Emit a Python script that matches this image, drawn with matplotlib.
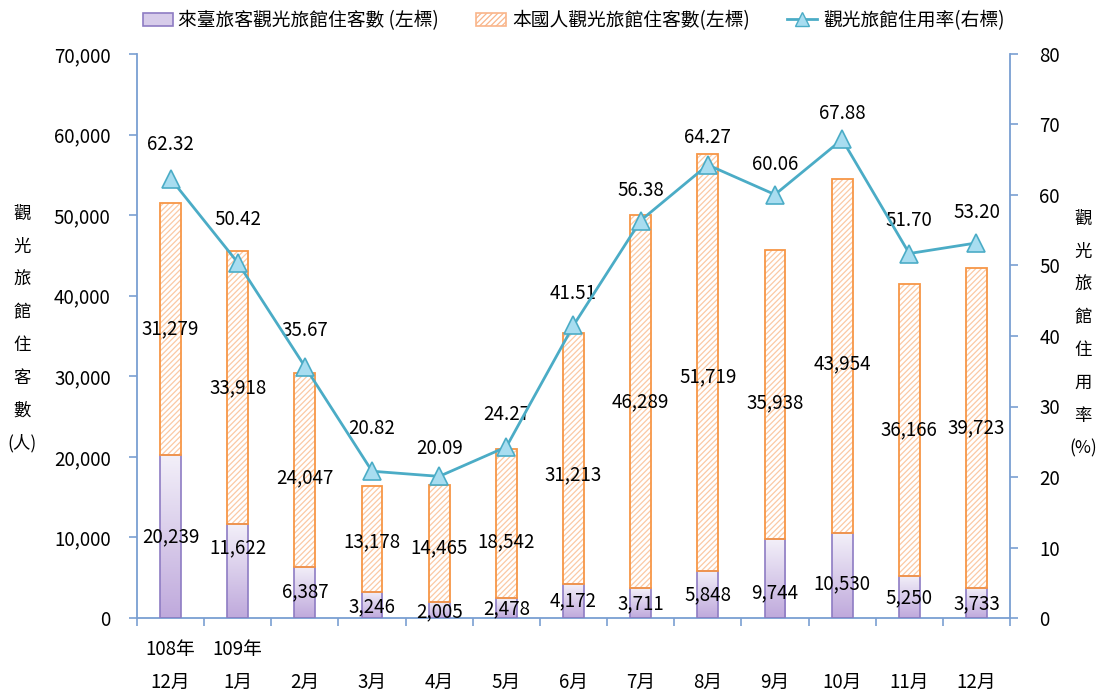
import numpy as np
import matplotlib
matplotlib.use("Agg")
import matplotlib.pyplot as plt
from matplotlib.colors import LinearSegmentedColormap
from matplotlib.patches import Patch
from matplotlib.lines import Line2D

plt.rcParams['font.family'] = ['Noto Sans CJK TC', 'DejaVu Sans']
plt.rcParams['hatch.linewidth'] = 0.9

months = ["12月", "1月", "2月", "3月", "4月", "5月", "6月", "7月", "8月", "9月", "10月", "11月", "12月"]
years = ["108年", "109年", "", "", "", "", "", "", "", "", "", "", ""]
foreign = [20239, 11622, 6387, 3246, 2005, 2478, 4172, 3711, 5848, 9744, 10530, 5250, 3733]
domestic = [31279, 33918, 24047, 13178, 14465, 18542, 31213, 46289, 51719, 35938, 43954, 36166, 39723]
occupancy = [62.32, 50.42, 35.67, 20.82, 20.09, 24.27, 41.51, 56.38, 64.27, 60.06, 67.88, 51.70, 53.20]

# hand nudges for the data labels (data units / pixels), like the original layout
foreign_nudge = [0, 2900, 0, -200, -250, -150, 0, -100, 0, -1800, -1000, -100, -100]
domestic_nudge = [0, 0, -1000, -400, -550, -2300, -2000, 0, -1800, -1000, -1000, 0, 0]
rate_offset = [34, 43, 36, 43, 28, 32, 32, 30, 27, 30, 26, 33, 30]

axis_col = "#7A9FD2"
line_col = "#4BACC6"

fig = plt.figure(figsize=(10.98, 6.91), dpi=100)
ax = fig.add_axes([137 / 1098, 1 - 618 / 691, (1010 - 137) / 1098, (618 - 54) / 691])
x = np.arange(len(months))
w = 0.31

# foreign visitors: lavender gradient bars
fbars = ax.bar(x, foreign, w, color="none", edgecolor="#8E7CC3", linewidth=1.2, zorder=3)
cmap = LinearSegmentedColormap.from_list("lav", ["#BFA9DC", "#F3F0F9"])
grad = np.linspace(0, 1, 256).reshape(-1, 1)
for b in fbars:
    x0, y0 = b.get_x(), b.get_y()
    im = ax.imshow(grad, extent=[x0, x0 + b.get_width(), y0, y0 + b.get_height()],
                   origin="lower", aspect="auto", cmap=cmap, zorder=2)
    im.set_clip_path(b)

# domestic visitors: hatched orange bars
ax.bar(x, domestic, w, bottom=foreign, color="white", edgecolor="#FBC9A4",
       hatch="//////", linewidth=0, zorder=2)
ax.bar(x, domestic, w, bottom=foreign, color="none", edgecolor="#F79646",
       linewidth=1.3, zorder=3)

ax.set_xlim(-0.5, len(months) - 0.5)
ax.set_ylim(0, 70000)
ax.set_yticks(np.arange(0, 70001, 10000))
ax.set_yticklabels([f"{v:,}" for v in range(0, 70001, 10000)])
ax.set_xticks(x)
ax.set_xticklabels([f"{yy}\n{m}" for yy, m in zip(years, months)], linespacing=1.75)
ax.set_xticks(np.arange(-0.5, len(months)), minor=True)
ax.tick_params(axis="x", which="major", length=0, pad=15, labelsize=13.5)
ax.tick_params(axis="x", which="minor", length=6, color=axis_col, width=1.2, direction="out")
ax.tick_params(axis="y", length=6, color=axis_col, width=1.2, pad=13, labelsize=13.5)
for s in ["left", "bottom"]:
    ax.spines[s].set_color(axis_col)
    ax.spines[s].set_linewidth(1.3)
ax.spines["top"].set_visible(False)
ax.spines["right"].set_visible(False)

for i in range(len(months)):
    ax.text(x[i], foreign[i] / 2 + foreign_nudge[i], f"{foreign[i]:,}",
            ha="center", va="center", fontsize=13.5, zorder=5)
    ax.text(x[i], foreign[i] + domestic[i] / 2 + domestic_nudge[i], f"{domestic[i]:,}",
            ha="center", va="center", fontsize=13.5, zorder=5)

# occupancy rate on the right axis
ax2 = ax.twinx()
ax2.plot(x, occupancy, color=line_col, linewidth=2, marker="^", markersize=13,
         markerfacecolor="#A8DDF0", markeredgecolor=line_col, markeredgewidth=1.2, zorder=4)
ax2.set_ylim(0, 80)
ax2.set_yticks(np.arange(0, 81, 10))
ax2.tick_params(axis="y", length=6, color=axis_col, width=1.2, pad=15, labelsize=13.5)
for s in ["left", "top", "bottom"]:
    ax2.spines[s].set_visible(False)
ax2.spines["right"].set_color(axis_col)
ax2.spines["right"].set_linewidth(1.3)
for i in range(len(months)):
    ax2.annotate(f"{occupancy[i]:.2f}", (x[i], occupancy[i]), xytext=(0, rate_offset[i]),
                 textcoords="offset pixels", ha="center", va="center", fontsize=13.5)

fig.text(22 / 1098, 1 - 329 / 691, "觀\n光\n旅\n館\n住\n客\n數\n(人)", ha="center", va="center",
         fontsize=12.5, linespacing=2.05)
fig.text(1083 / 1098, 1 - 334 / 691, "觀\n光\n旅\n館\n住\n用\n率\n(%)", ha="center", va="center",
         fontsize=12.5, linespacing=2.05)

handles = [
    Patch(facecolor="#D7CCEA", edgecolor="#8E7CC3", linewidth=1.2),
    Patch(facecolor="white", edgecolor="#F9B58A", hatch="//////", linewidth=1.2),
    Line2D([0], [0], color=line_col, linewidth=2, marker="^", markersize=10,
           markerfacecolor="#A8DDF0", markeredgecolor=line_col),
]
labels = ["來臺旅客觀光旅館住客數 (左標)", "本國人觀光旅館住客數(左標)", "觀光旅館住用率(右標)"]
ax.legend(handles, labels, loc="center", bbox_to_anchor=(0.5, 1.06), ncol=3, frameon=False,
          fontsize=13.5, handlelength=1.6, handletextpad=0.3, columnspacing=2.0)

fig.savefig("out.png", dpi=100)
